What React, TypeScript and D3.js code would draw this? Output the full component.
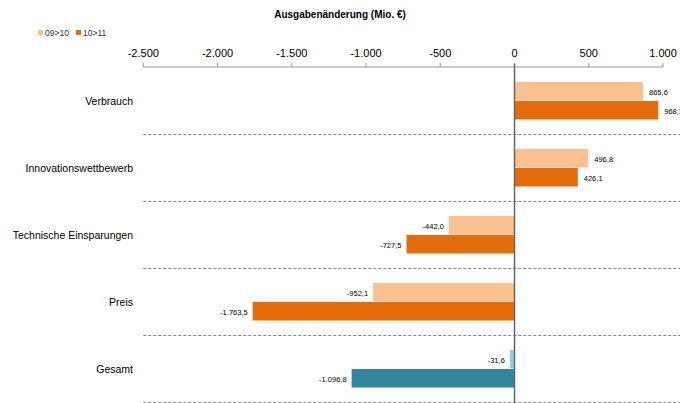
import React, { useEffect, useRef } from "react";
import * as d3 from "d3";

const categories = [
  "Verbrauch",
  "Innovationswettbewerb",
  "Technische Einsparungen",
  "Preis",
  "Gesamt",
];
const series0910 = [865.6, 496.8, -442.0, -952.1, -31.6];
const series1011 = [968.3, 426.1, -727.5, -1763.5, -1096.8];
const legendLabels = ["09>10", "10>11"];
const tickValues = [-2500, -2000, -1500, -1000, -500, 0, 500, 1000];

const fmt = (v: number): string => {
  const s = Math.abs(v).toFixed(1).replace(".", ",");
  const [intPart, dec] = s.split(",");
  const withSep = intPart.replace(/\B(?=(\d{3})+(?!\d))/g, ".");
  return (v < 0 ? "-" : "") + withSep + "," + dec;
};
const fmtTick = (v: number): string =>
  (v < 0 ? "-" : "") + Math.abs(v).toString().replace(/\B(?=(\d{3})+(?!\d))/g, ".");

function App(): JSX.Element {
  const ref = useRef<SVGSVGElement>(null);

  useEffect(() => {
    const width = 680;
    const height = 403;
    const svg = d3.select(ref.current);
    svg.selectAll("*").remove();

    const font = "Liberation Sans, Arial, sans-serif";
    const axisY = 67;
    const x = d3.scaleLinear().domain([-2500, 1000]).range([143.3, 663]);
    const y = d3
      .scaleBand()
      .domain(categories)
      .range([axisY, axisY + 67 * categories.length]);

    // title
    svg
      .append("text")
      .attr("x", 340)
      .attr("y", 18)
      .attr("text-anchor", "middle")
      .attr("font-family", font)
      .attr("font-size", 10)
      .attr("font-weight", "bold")
      .attr("fill", "#000")
      .text("Ausgabenänderung (Mio. €)");

    // legend
    const legendColors = ["#FAC090", "#E46C0A"];
    legendLabels.forEach((lbl, i) => {
      const lx = 38 + i * 38;
      svg
        .append("rect")
        .attr("x", lx)
        .attr("y", 30)
        .attr("width", 5)
        .attr("height", 5)
        .attr("fill", legendColors[i]);
      svg
        .append("text")
        .attr("x", lx + 7)
        .attr("y", 35.5)
        .attr("font-family", font)
        .attr("font-size", 8.5)
        .attr("fill", "#333")
        .text(lbl);
    });

    // axis
    const axis = svg.append("g").attr("transform", `translate(0,${axisY})`);
    axis
      .append("line")
      .attr("x1", x(-2500))
      .attr("x2", x(1000))
      .attr("stroke", "#999")
      .attr("stroke-width", 1);
    tickValues.forEach((t) => {
      axis
        .append("line")
        .attr("x1", x(t))
        .attr("x2", x(t))
        .attr("y1", 0)
        .attr("y2", -4)
        .attr("stroke", "#999");
      axis
        .append("text")
        .attr("x", x(t))
        .attr("y", -10)
        .attr("text-anchor", "middle")
        .attr("font-family", font)
        .attr("font-size", 11)
        .attr("fill", "#000")
        .text(fmtTick(t));
    });

    // separators
    categories.forEach((c) => {
      svg
        .append("line")
        .attr("x1", x(-2500))
        .attr("x2", width)
        .attr("y1", y(c)! + y.bandwidth() + 0.5)
        .attr("y2", y(c)! + y.bandwidth() + 0.5)
        .attr("stroke", "#888")
        .attr("stroke-width", 1)
        .attr("stroke-dasharray", "3,2");
    });

    // category labels
    categories.forEach((c) => {
      svg
        .append("text")
        .attr("x", 133)
        .attr("y", y(c)! + y.bandwidth() / 2 + 4)
        .attr("text-anchor", "end")
        .attr("font-family", font)
        .attr("font-size", 10.5)
        .attr("fill", "#000")
        .text(c);
    });

    // bars
    const barH = 19;
    const drawSeries = (vals: number[], offset: number, colors: (i: number) => string) => {
      vals.forEach((v, i) => {
        const top = y(categories[i])! + 15 + offset;
        svg
          .append("rect")
          .attr("x", x(Math.min(0, v)))
          .attr("y", top)
          .attr("width", Math.abs(x(v) - x(0)))
          .attr("height", barH - 0.5)
          .attr("fill", colors(i));
        svg
          .append("text")
          .attr("x", v >= 0 ? x(v) + 6 : x(v) - 5)
          .attr("y", top + barH / 2 + 3)
          .attr("text-anchor", v >= 0 ? "start" : "end")
          .attr("font-family", font)
          .attr("font-size", 7.5)
          .attr("fill", "#000")
          .text(fmt(v));
      });
    };
    const last = categories.length - 1;
    drawSeries(series0910, 0, (i) => (i === last ? "#93CDDD" : "#FAC090"));
    drawSeries(series1011, barH, (i) => (i === last ? "#31859C" : "#E46C0A"));

    // zero line
    svg
      .append("line")
      .attr("x1", x(0))
      .attr("x2", x(0))
      .attr("y1", axisY - 3)
      .attr("y2", height)
      .attr("stroke", "#666")
      .attr("stroke-width", 1.5);
  }, []);

  return (
    <svg
      ref={ref}
      width={680}
      height={403}
      style={{ position: "absolute", left: 0, top: 0, background: "#fff" }}
    />
  );
}

export default App;
